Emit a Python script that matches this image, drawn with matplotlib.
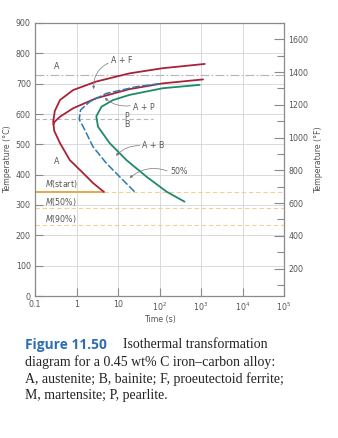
import matplotlib
matplotlib.use("Agg")
import matplotlib.pyplot as plt

# --- curve data: time (s) and temperature (degC) ---
ferrite_start_t = [1230, 120, 19, 3.0, 0.83, 0.40, 0.30, 0.275, 0.29, 0.40, 0.69, 1.45, 2.52, 4.6]
ferrite_start_T = [765, 751, 734, 707, 679, 646, 610, 575, 545, 504, 448, 405, 372, 343]

pearlite_start_t = [1120, 120, 19, 3.0, 0.83, 0.40, 0.30, 0.277]
pearlite_start_T = [714, 701, 682, 652, 619, 591, 575, 565]

half_t = [100, 28, 5.3, 2.1, 1.25, 1.16, 1.45, 2.5, 5.3, 11, 25]
half_T = [700, 690, 668, 641, 613, 582, 558, 492, 437, 393, 344]

finish_t = [930, 120, 19, 7.6, 4.0, 3.0, 3.3, 6.3, 16, 49, 148, 400]
finish_T = [696, 685, 663, 646, 624, 592, 558, 504, 448, 393, 344, 311]

eutectoid_T = 727
pearlite_bainite_T = 585
pearlite_bainite_end_t = 70
m_start_T = 343
m_50_T = 290
m_90_T = 234

x_ticks = [0.1, 1, 10, 100, 1000, 1e4, 1e5]
x_tick_labels = ["0.1", "1", "10", r"$10^2$", r"$10^3$", r"$10^4$", r"$10^5$"]
y_ticks_c = list(range(0, 901, 100))
y_ticks_f_major = list(range(200, 1601, 200))
y_ticks_f_minor = list(range(100, 1701, 100))

RED = "#a82238"
BLUE = "#2a7ab0"
GREEN = "#1d8a6a"
ORANGE = "#e0a23a"
ORANGE_LIGHT = "#f2cf95"
GRID = "#d4d4d4"
AX = "#8a8a8a"
TXT = "#555555"
FS = 5.7

W, H = 338, 438
fig = plt.figure(figsize=(W / 100, H / 100), dpi=100)
left, right, top, bottom = 35, 284, 23, 296
ax = fig.add_axes([left / W, 1 - bottom / H, (right - left) / W, (bottom - top) / H])
ax.set_xscale("log")
ax.set_xlim(0.1, 1e5)
ax.set_ylim(0, 900)

for s in ax.spines.values():
    s.set_color(AX)
    s.set_linewidth(0.9)

ax.set_xticks(x_ticks)
ax.set_xticklabels(x_tick_labels)
ax.xaxis.set_minor_locator(matplotlib.ticker.NullLocator())
ax.set_yticks(y_ticks_c)
ax.tick_params(axis="both", direction="in", length=6, width=0.8, color=AX,
               labelsize=FS, labelcolor=TXT, pad=3)
ax.grid(True, color=GRID, lw=0.6)
ax.set_axisbelow(True)

ax.set_xlabel("Time (s)", fontsize=FS, color=TXT, labelpad=2)
ax.set_ylabel("Temperature (°C)", fontsize=FS, color=TXT, labelpad=3)

# Fahrenheit axis on the right
axf = ax.twinx()
c2f = lambda c: c * 9 / 5 + 32
axf.set_ylim(c2f(0), c2f(900))
axf.set_yticks(y_ticks_f_major)
axf.set_yticks(y_ticks_f_minor, minor=True)
axf.tick_params(axis="y", which="major", direction="in", length=7, width=0.8,
                color=AX, labelsize=FS, labelcolor=TXT, pad=3)
axf.tick_params(axis="y", which="minor", direction="in", length=5, width=0.8, color=AX)
axf.set_ylabel("Temperature (°F)", fontsize=FS, color=TXT, labelpad=4)
for s in axf.spines.values():
    s.set_visible(False)

# reference lines
ax.axhline(eutectoid_T, color="#b5b5b5", lw=0.8, ls=(0, (8, 2, 1.5, 2)))
ax.plot([0.1, pearlite_bainite_end_t], [pearlite_bainite_T] * 2, color="#b5b5b5",
        lw=0.8, ls=(0, (4, 2.5)))
ax.plot([0.1, ferrite_start_t[-1]], [m_start_T] * 2, color=ORANGE, lw=1.3,
        solid_capstyle="butt")
ax.plot([ferrite_start_t[-1], 1e5], [m_start_T] * 2, color=ORANGE_LIGHT, lw=0.8,
        ls=(0, (4, 2.5)))
ax.axhline(m_50_T, color=ORANGE_LIGHT, lw=0.8, ls=(0, (4, 2.5)))
ax.axhline(m_90_T, color=ORANGE_LIGHT, lw=0.8, ls=(0, (4, 2.5)))

# transformation curves
curve = dict(lw=1.3, solid_joinstyle="round", solid_capstyle="round")
ax.plot(ferrite_start_t, ferrite_start_T, color=RED, **curve)
ax.plot(pearlite_start_t, pearlite_start_T, color=RED, **curve)
ax.plot(half_t, half_T, color=BLUE, lw=1.1, ls=(0, (5, 1.5)),
        dash_joinstyle="round")
ax.plot(finish_t, finish_T, color=GREEN, **curve)

# labels
lab = dict(fontsize=FS, color=TXT, ha="center", va="center")
ax.text(0.34, 755, "A", **lab)
ax.text(0.34, 442, "A", **lab)
ax.text(16.3, 593, "P", **lab)
ax.text(16.3, 564, "B", **lab)

arrow = dict(arrowstyle="-|>", color="#777777", lw=0.5, mutation_scale=4,
             shrinkA=0, shrinkB=0)
ax.annotate("A + F", xy=(2.6, 682), xytext=(12.3, 778), fontsize=FS, color=TXT,
            ha="center", va="center",
            arrowprops=dict(arrow, connectionstyle="arc3,rad=0.35",
                            relpos=(0.0, 0.3)))
ax.annotate("A + P", xy=(4.8, 653), xytext=(42, 623), fontsize=FS, color=TXT,
            ha="center", va="center",
            arrowprops=dict(arrow, connectionstyle="arc3,rad=-0.25",
                            relpos=(0.0, 0.7)))
ax.annotate("A + B", xy=(8.9, 462), xytext=(72, 495), fontsize=FS, color=TXT,
            ha="center", va="center",
            arrowprops=dict(arrow, connectionstyle="arc3,rad=0.25",
                            relpos=(0.0, 0.5)))
ax.annotate("50%", xy=(19, 389), xytext=(290, 409), fontsize=FS, color=TXT,
            ha="center", va="center",
            arrowprops=dict(arrow, connectionstyle="arc3,rad=0.3",
                            relpos=(0.0, 0.5)))

mlab = dict(fontsize=FS, color=TXT, ha="left", va="center")
ax.text(0.175, 369, r"$\mathit{M}$(start)", **mlab)
ax.text(0.175, 310, r"$\mathit{M}$(50%)", **mlab)
ax.text(0.175, 254, r"$\mathit{M}$(90%)", **mlab)

# caption
BLUE_CAP = "#2f6db3"
serif = "Liberation Serif"
fig.text(25 / W, 1 - 345 / H, "Figure 11.50", fontsize=9.9, fontweight="bold",
         color=BLUE_CAP, family="Open Sans", va="center", ha="left")
fig.text(123 / W, 1 - 345 / H, "Isothermal transformation", fontsize=10.0,
         family=serif, color="#222222", va="center", ha="left")
cap_lines = ["diagram for a 0.45 wt% C iron\u2013carbon alloy:",
             "A, austenite; B, bainite; F, proeutectoid ferrite;",
             "M, martensite; P, pearlite."]
for i, line in enumerate(cap_lines):
    fig.text(25 / W, 1 - (362 + 17 * i) / H, line, fontsize=10.0, family=serif,
             color="#222222", va="center", ha="left")

fig.savefig("out.png", dpi=100)
